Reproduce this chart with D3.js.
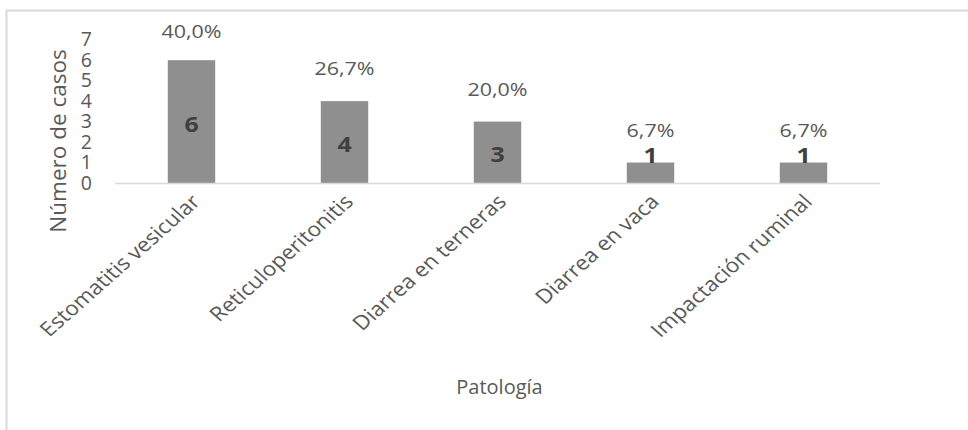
<!DOCTYPE html>
<html>
<head>
<meta charset="utf-8">
<script src="https://cdn.jsdelivr.net/npm/d3@7"></script>
<style>
  html, body { margin: 0; padding: 0; background: #ffffff; }
  svg { display: block; font-family: "Open Sans", "Noto Sans", sans-serif; }
</style>
</head>
<body>
<svg id="chart" width="968" height="430"></svg>
<script>
// Casos por patología
const categories = ["Estomatitis vesicular", "Reticuloperitonitis", "Diarrea en terneras", "Diarrea en vaca", "Impactación ruminal"];
const cases = [6, 4, 3, 1, 1];
const percentLabels = ["40,0%", "26,7%", "20,0%", "6,7%", "6,7%"];
const yTicks = [0, 1, 2, 3, 4, 5, 6, 7];
const yTitle = "Número de casos";
const xTitle = "Patología";

const svg = d3.select("#chart");
const textColor = "#595959";
const stretch = 1.13; // horizontal widening of the lettering

// outer frame
svg.append("rect")
  .attr("x", 6.5).attr("y", 10.5)
  .attr("width", 1000).attr("height", 500)
  .attr("fill", "none").attr("stroke", "#d9d9d9").attr("stroke-width", 2);

const plot = { left: 115, right: 880, top: 39.7, bottom: 183 };

const x = d3.scaleBand()
  .domain(categories)
  .range([plot.left, plot.right])
  .paddingInner(0.69)
  .paddingOuter(0.345);

const y = d3.scaleLinear()
  .domain([0, 7])
  .range([plot.bottom, plot.top]);

// y axis labels
const yAxis = svg.append("g")
  .attr("transform", `translate(92,0)`)
  .call(d3.axisLeft(y).tickValues(yTicks).tickSize(0).tickPadding(0).tickFormat(d3.format("d")));
yAxis.select(".domain").remove();
yAxis.selectAll("text")
  .attr("fill", textColor)
  .style("font-size", "19.5px")
  .style("font-family", '"Open Sans", sans-serif');

// bars
svg.append("g").selectAll("rect")
  .data(cases)
  .join("rect")
  .attr("x", (d, i) => x(categories[i]))
  .attr("y", d => y(d))
  .attr("width", x.bandwidth())
  .attr("height", d => y(0) - y(d))
  .attr("fill", "#8f8f8f");

// baseline
svg.append("line")
  .attr("x1", plot.left).attr("x2", plot.right)
  .attr("y1", y(0) + 0.5).attr("y2", y(0) + 0.5)
  .attr("stroke", "#d9d9d9").attr("stroke-width", 1.5);

// value labels inside the bars
svg.append("g").selectAll("text")
  .data(cases)
  .join("text")
  .attr("transform", (d, i) => {
    const cx = x(categories[i]) + x.bandwidth() / 2;
    const h = y(0) - y(d);
    const cy = h >= 30 ? (y(d) + y(0)) / 2 + 2 : y(d) - 7;
    return `translate(${cx},${cy}) scale(${stretch},1)`;
  })
  .attr("text-anchor", "middle")
  .attr("dy", "0.36em")
  .attr("fill", "#404040")
  .style("font-size", "22px")
  .style("font-weight", "bold")
  .text(d => d);

// percentage labels above the bars
svg.append("g").selectAll("text")
  .data(cases)
  .join("text")
  .attr("transform", (d, i) => {
    const cx = x(categories[i]) + x.bandwidth() / 2;
    return `translate(${cx},${Math.max(y(d) - 26, 38)}) scale(${stretch},1)`;
  })
  .attr("text-anchor", "middle")
  .attr("fill", textColor)
  .style("font-size", "19px")
  .text((d, i) => percentLabels[i]);

// category labels, slanted
svg.append("g").selectAll("text")
  .data(categories)
  .join("text")
  .attr("transform", d => `translate(${x(d) + x.bandwidth() / 2 + 10},${plot.bottom + 20}) scale(${stretch},1) rotate(-45)`)
  .attr("text-anchor", "end")
  .attr("fill", textColor)
  .style("font-size", "20px")
  .text(d => d);

// axis titles
svg.append("text")
  .attr("transform", `translate(66,141) rotate(-90)`)
  .attr("text-anchor", "middle")
  .attr("fill", textColor)
  .style("font-size", "22.5px")
  .text(yTitle);

svg.append("text")
  .attr("transform", `translate(${(plot.left + plot.right) / 2 + 2},394)`)
  .attr("text-anchor", "middle")
  .attr("fill", textColor)
  .style("font-size", "20px")
  .text(xTitle);
</script>
</body>
</html>
